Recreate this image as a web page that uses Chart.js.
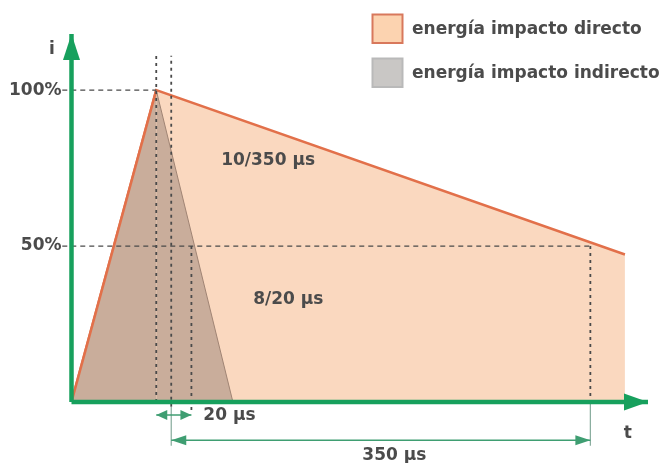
<!DOCTYPE html>
<html><head><meta charset="utf-8">
<script src="https://cdn.jsdelivr.net/npm/chart.js@4/dist/chart.umd.min.js"></script>
<style>html,body{margin:0;padding:0;background:#fff}canvas{display:block}</style>
</head><body>
<canvas id="c" width="669" height="463" style="width:669px;height:463px"></canvas>
<script>
// ---- data: schematic time axis (arbitrary units), current in % of peak ----
const seriesLabels = ['energía impacto directo', 'energía impacto indirecto'];
const directoT = [0, 14.7, 96];       // 10/350 µs wave: start, peak, end of drawing
const directoI = [0, 100, 47.3];
const indirectoT = [0, 14.7, 28];     // 8/20 µs wave: start, peak, end
const indirectoI = [0, 100, 0];
const yTickValues = [50, 100];
const yTickLabels = ['50%', '100%'];
const peakT = 14.7;          // time of peak
const start350T = 17.3;      // start of the 350 µs span
const half820T = 20.8;       // 20 µs marker
const half10350T = 90;       // 350 µs marker (50 % of 10/350 wave)
const halfLevel = 50;
const annotations = [
  { text: '10/350 μs', x: 34.1, y: 77.4 },
  { text: '8/20 μs',   x: 37.6, y: 32.9 },
  { text: '20 μs',     x: 27.4, y: -4.3 },
  { text: '350 μs',    x: 56.0, y: -17.2 },
  { text: 'i',         x: -3.4, y: 113 },
  { text: 't',         x: 96.5, y: -10 }
];

// ---- styles ----
const GREEN = '#17a05d', DIM = '#3f9e72', EXT = '#86ab9c';
const ORANGE = '#e2704a', PEACH = '#fad8bf', GRAYFILL = '#c9ad9b';
const DOT = '#4a4a4a', TEXT = '#4b4b4b';
const FONT = 'bold 17px "DejaVu Sans"';

const pts = (xs, ys) => xs.map((x, i) => ({ x, y: ys[i] }));
const seg = (x0, y0, x1, y1) => [{ x: x0, y: y0 }, { x: x1, y: y1 }];
const plain = { pointRadius: 0, fill: false, tension: 0, clip: false };

const datasets = [
  // axes
  { ...plain, order: 0, data: seg(0, 0, 0, 118), borderColor: GREEN, borderWidth: 4.5, arrow: { len: 26, half: 8.5 } },
  { ...plain, order: 0, data: seg(0, 0, 100, 0), borderColor: GREEN, borderWidth: 4.5, arrow: { len: 24, half: 8.5 } },
  // dimension lines
  { ...plain, order: 0, data: seg(peakT, -4.2, half820T, -4.2), borderColor: DIM, borderWidth: 1.5, arrow: { len: 11, half: 5, both: true } },
  { ...plain, order: 0, data: seg(start350T, -12.3, half10350T, -12.3), borderColor: DIM, borderWidth: 1.5, arrow: { len: 15, half: 5, both: true } },
  // extension lines
  { ...plain, order: 1, data: seg(start350T, -1.5, start350T, -14), borderColor: EXT, borderWidth: 1.2 },
  { ...plain, order: 1, data: seg(half10350T, 0, half10350T, -14), borderColor: EXT, borderWidth: 1.2 },
  // dotted verticals
  { ...plain, order: 1, data: seg(peakT, 0, peakT, 111), borderColor: DOT, borderWidth: 1.8, borderDash: [3, 4] },
  { ...plain, order: 1, data: seg(start350T, -1.5, start350T, 111), borderColor: DOT, borderWidth: 1.8, borderDash: [3, 4] },
  { ...plain, order: 1, data: seg(half820T, halfLevel, half820T, -3), borderColor: DOT, borderWidth: 1.8, borderDash: [3, 4] },
  { ...plain, order: 1, data: seg(half10350T, halfLevel, half10350T, 0), borderColor: DOT, borderWidth: 1.8, borderDash: [3, 4] },
  // dashed horizontals
  { ...plain, order: 1, data: seg(-1.6, 100, peakT, 100), borderColor: DOT, borderWidth: 1.3, borderDash: [5, 4] },
  { ...plain, order: 1, data: seg(-1.6, halfLevel, half10350T, halfLevel), borderColor: DOT, borderWidth: 1.3, borderDash: [5, 4] },
  // waves
  { label: seriesLabels[1], order: 2, data: pts(indirectoT, indirectoI), backgroundColor: GRAYFILL,
    borderColor: '#a08474', borderWidth: 1, fill: 'origin', pointRadius: 0, tension: 0,
    legendFill: '#c9c7c5', legendBorder: '#b9b9b9',
    segment: { borderColor: c => c.p0DataIndex === 0 ? ORANGE : '#a08474', borderWidth: c => c.p0DataIndex === 0 ? 2.5 : 1 } },
  { label: seriesLabels[0], order: 3, data: pts(directoT, directoI), backgroundColor: PEACH,
    borderColor: ORANGE, borderWidth: 2.5, fill: 'origin', pointRadius: 0, tension: 0,
    legendFill: '#fcd3b0', legendBorder: '#d8785c' }
];

const arrowPlugin = {
  id: 'arrows',
  afterDatasetsDraw(chart) {
    const ctx = chart.ctx;
    chart.data.datasets.forEach((ds, i) => {
      if (!ds.arrow) return;
      const p = chart.getDatasetMeta(i).data;
      const { len, half, both } = ds.arrow;
      const head = (tip, from) => {
        const dx = tip.x - from.x, dy = tip.y - from.y, d = Math.hypot(dx, dy);
        const ux = dx / d, uy = dy / d, bx = tip.x - ux * len, by = tip.y - uy * len;
        ctx.beginPath();
        ctx.moveTo(tip.x, tip.y);
        ctx.lineTo(bx - uy * half, by + ux * half);
        ctx.lineTo(bx + uy * half, by - ux * half);
        ctx.closePath();
        ctx.fillStyle = ds.borderColor;
        ctx.fill();
      };
      head(p[p.length - 1], p[0]);
      if (both) head(p[0], p[p.length - 1]);
    });
  }
};

const textPlugin = {
  id: 'texts',
  afterDraw(chart) {
    const ctx = chart.ctx, sx = chart.scales.x, sy = chart.scales.y;
    ctx.save();
    ctx.font = FONT;
    ctx.fillStyle = TEXT;
    ctx.textAlign = 'center';
    ctx.textBaseline = 'middle';
    annotations.forEach(a => ctx.fillText(a.text, sx.getPixelForValue(a.x), sy.getPixelForValue(a.y)));
    // legend
    const items = chart.data.datasets.filter(d => d.label).sort((a, b) => seriesLabels.indexOf(a.label) - seriesLabels.indexOf(b.label));
    items.forEach((d, k) => {
      const top = 14.5 + k * 44;
      ctx.fillStyle = d.legendFill;
      ctx.fillRect(372.5, top, 30, 28.5);
      ctx.strokeStyle = d.legendBorder;
      ctx.lineWidth = 2;
      ctx.strokeRect(372.5, top, 30, 28.5);
      ctx.fillStyle = TEXT;
      ctx.textAlign = 'left';
      ctx.fillText(d.label, 412, top + 15);
    });
    ctx.restore();
  }
};

new Chart(document.getElementById('c'), {
  type: 'line',
  data: { datasets },
  plugins: [arrowPlugin, textPlugin],
  options: {
    responsive: false,
    animation: false,
    events: [],
    layout: { padding: { left: 0, right: 21, top: 34, bottom: 8 } },
    plugins: { legend: { display: false }, tooltip: { enabled: false } },
    scales: {
      x: { type: 'linear', min: 0, max: 100, display: false },
      y: {
        type: 'linear', min: -17, max: 118,
        grid: { display: false, drawTicks: false },
        border: { display: false },
        afterBuildTicks: s => { s.ticks = yTickValues.map(v => ({ value: v })); },
        afterFit: s => { s.width = 71.5; s.paddingTop = 0; s.paddingBottom = 0; },
        ticks: {
          padding: 10, color: TEXT,
          font: { family: 'DejaVu Sans', size: 17, weight: 'bold' },
          callback: v => yTickLabels[yTickValues.indexOf(v)]
        }
      }
    }
  }
});
</script>
</body></html>
